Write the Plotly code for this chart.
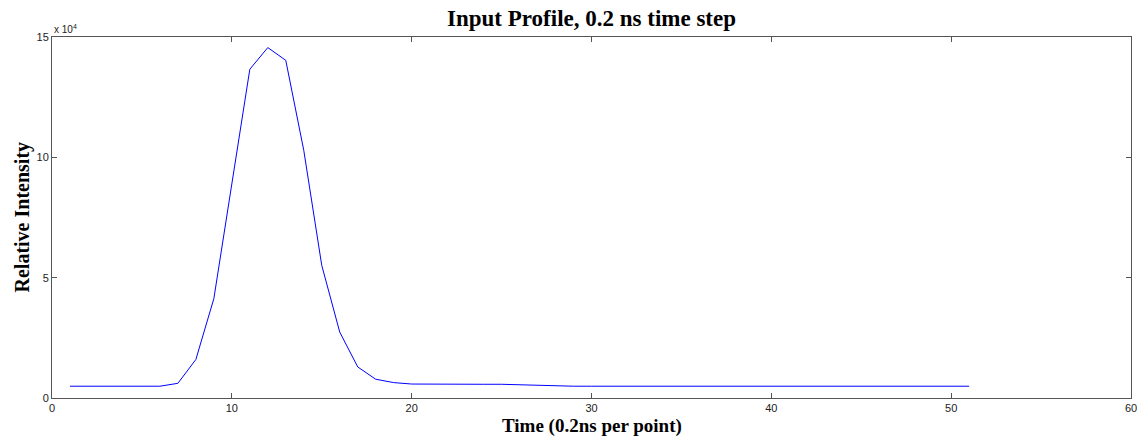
import plotly.graph_objects as go

time_points = list(range(1, 52))
intensity = [
    4900, 4900, 4900, 4900, 4900, 4900, 6100, 16000, 41300, 88000,
    136600, 145600, 140300, 102900, 55100, 27400, 12900, 7800, 6400, 5800,
    5700, 5700, 5700, 5700, 5700, 5500, 5300, 4900, 4900, 4900,
    4900, 4900, 4900, 4900, 4900, 4900, 4900, 4900, 4900, 4900,
    4900, 4900, 4900, 4900, 4900, 4900, 4900, 4900, 4900, 4900, 4900,
]
x_ticks = [0, 10, 20, 30, 40, 50, 60]
y_tick_vals = [0, 50000, 100000, 150000]
y_tick_text = ["0", "5", "10", "15"]

serif = "Liberation Serif, Times New Roman, serif"
sans = "Liberation Sans, Arial, sans-serif"

W, H = 1145, 442

fig = go.Figure()
fig.add_trace(go.Scatter(x=time_points, y=intensity, mode="lines",
                         line=dict(color="#0000ff", width=1), showlegend=False))

axis_common = dict(showgrid=False, zeroline=False, showline=True, linecolor="#555555",
                   linewidth=1, mirror="ticks", ticks="inside", ticklen=5,
                   tickcolor="#555555", automargin=False,
                   tickfont=dict(family=sans, size=11, color="#222222"))

fig.update_layout(
    width=W, height=H,
    margin=dict(l=52, r=14, t=37, b=44),
    paper_bgcolor="white", plot_bgcolor="white",
    title=dict(text="<b>Input Profile, 0.2 ns time step</b>", xref="paper", x=0.5,
               xanchor="center", y=1 - 18 / H, yanchor="middle",
               font=dict(family=serif, size=23, color="black")),
    xaxis=dict(range=[0, 60], tickvals=x_ticks, **axis_common),
    yaxis=dict(range=[0, 150000], tickvals=y_tick_vals, ticktext=y_tick_text,
               **axis_common),
)
fig.add_annotation(text="<b>Time (0.2ns per point)</b>", xref="paper", yref="paper",
                   x=0.5, y=0, xanchor="center", yanchor="middle", yshift=-28,
                   showarrow=False, font=dict(family=serif, size=19, color="black"))
fig.add_annotation(text="<b>Relative Intensity</b>", xref="paper", yref="paper",
                   x=0, y=0.5, xanchor="center", yanchor="middle", xshift=-30,
                   textangle=-90, showarrow=False,
                   font=dict(family=serif, size=20, color="black"))
fig.add_annotation(text="x 10<sup>4</sup>", xref="paper", yref="paper", x=0, y=1.0,
                   xanchor="left", yanchor="bottom", showarrow=False, yshift=0,
                   font=dict(family=sans, size=10, color="#222222"))

fig.write_html("out.html", config={"displayModeBar": False},
               post_script="document.body.style.margin='0';document.body.style.overflow='hidden';")
